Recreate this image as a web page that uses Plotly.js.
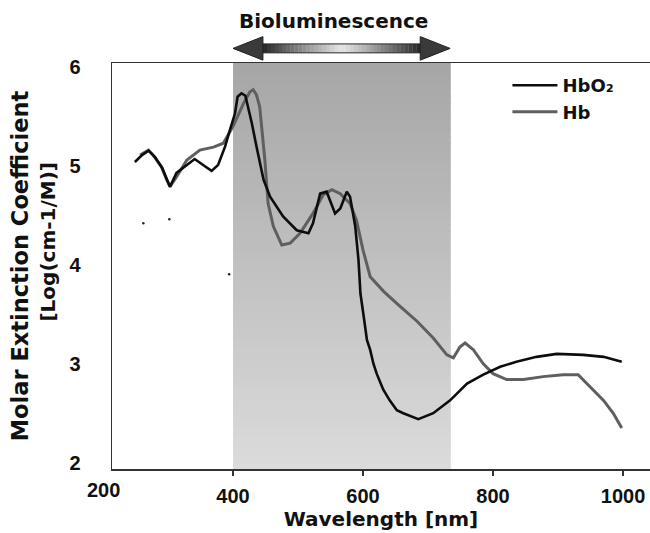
<!DOCTYPE html>
<html>
<head>
<meta charset="utf-8">
<script src="https://cdn.plot.ly/plotly-3.0.1.min.js"></script>
<style>
html,body{margin:0;padding:0;background:#ffffff;}
#chart{width:650px;height:533px;}
</style>
</head>
<body>
<div id="chart"></div>
<script>
// ---- data ----
const seriesNames = ['HbO₂', 'Hb'];

const hbo2Wavelength = [249,260,270,280,291,303,313,329,341,354,367,377,388,395,403,407,413,419,424,429,436,447,457,477,498,516,523,534,544,557,565,575,580,588,593,596,601,606,611,616,621,631,641,652,662,685,708,734,760,785,811,836,867,898,939,970,998];
const hbo2Log = [5.04,5.11,5.155,5.09,4.98,4.79,4.93,5.01,5.07,5.01,4.95,5.01,5.20,5.36,5.53,5.70,5.735,5.71,5.57,5.43,5.20,4.86,4.69,4.49,4.35,4.32,4.42,4.72,4.74,4.52,4.57,4.74,4.69,4.39,4.05,3.71,3.48,3.24,3.14,3.00,2.90,2.74,2.63,2.53,2.50,2.44,2.50,2.63,2.80,2.89,2.97,3.02,3.07,3.10,3.09,3.07,3.02];

const hbWavelength = [257,270,277,290,298,303,313,329,349,370,385,400,416,426,431,436,441,445,449,454,462,475,488,503,523,539,552,565,580,590,600,611,632,657,683,708,729,739,749,757,770,785,800,821,847,877,908,931,949,970,985,998];
const hbLog = [5.11,5.16,5.11,4.99,4.86,4.79,4.89,5.06,5.16,5.19,5.23,5.40,5.63,5.75,5.77,5.72,5.60,5.36,5.06,4.62,4.39,4.20,4.22,4.32,4.52,4.71,4.76,4.72,4.62,4.45,4.15,3.88,3.73,3.58,3.43,3.26,3.09,3.06,3.17,3.21,3.14,3.00,2.90,2.84,2.84,2.87,2.89,2.89,2.77,2.63,2.50,2.35];

// stray specks visible in the scanned figure
const strayWavelength = [262, 302, 394];
const strayLog = [4.42, 4.46, 3.905];

const xTickVals = [200, 400, 600, 800, 1000];
const xTickText = ['200', '400', '600', '800', '1000'];
const yTickVals = [2, 3, 4, 5, 6];
const yTickText = ['2', '3', '4', '5', '6'];

const bandRange = [400, 735];      // bioluminescence window (nm)
const bandLabel = 'Bioluminescence';
const xTitle = 'Wavelength [nm]';
const yTitleLine1 = 'Molar Extinction Coefficient';
const yTitleLine2 = '[Log(cm-1/M)]';

// ---- styling ----
const titleFont = {family: 'DejaVu Sans', weight: 'bold', color: '#111111'};
const tickFont = {family: 'Liberation Sans, Arial', size: 20, weight: 'bold', color: '#111111'};

const shapes = [];
// vertical gradient band (dark at top, light at bottom)
const N = 60;
for (let i = 0; i < N; i++) {
  const t0 = i / N, t1 = (i + 1) / N;
  const c = Math.round(219 - (219 - 166) * ((t0 + t1) / 2));
  shapes.push({type: 'rect', xref: 'x', yref: 'paper', x0: bandRange[0], x1: bandRange[1],
    y0: t0, y1: Math.min(1, t1 + 0.003), fillcolor: `rgb(${c},${c},${c})`, line: {width: 0}, layer: 'below'});
}

// double-headed arrow above the plot
const ay = 1.036, headH = 0.029, shaftH = 0.011;
const aL = bandRange[0], aR = 734, headLen = 46;
const sL = aL + headLen, sR = aR - headLen;
const M = 40;
for (let i = 0; i < M; i++) {
  const t = (i + 0.5) / M;
  const d = Math.abs(2 * t - 1);
  const g = Math.round(228 - 190 * Math.pow(d, 1.1));
  shapes.push({type: 'rect', xref: 'x', yref: 'paper',
    x0: sL + (sR - sL) * i / M, x1: sL + (sR - sL) * (i + 1) / M + 0.5,
    y0: ay - shaftH, y1: ay + shaftH, fillcolor: `rgb(${g},${g},${g})`, line: {width: 0}});
}
shapes.push({type: 'rect', xref: 'x', yref: 'paper', x0: sL, x1: sR, y0: ay - shaftH, y1: ay + shaftH,
  fillcolor: 'rgba(0,0,0,0)', line: {color: '#2a2a2a', width: 1}});
shapes.push({type: 'path', xref: 'x', yref: 'paper',
  path: `M ${sL},${ay + headH} L ${aL},${ay} L ${sL},${ay - headH} Z`,
  fillcolor: '#3a3a3a', line: {color: '#222222', width: 1}});
shapes.push({type: 'path', xref: 'x', yref: 'paper',
  path: `M ${sR},${ay + headH} L ${aR},${ay} L ${sR},${ay - headH} Z`,
  fillcolor: '#3a3a3a', line: {color: '#222222', width: 1}});

const traces = [
  {x: hbWavelength, y: hbLog, name: seriesNames[1], type: 'scatter', mode: 'lines',
   line: {color: '#5f5f5f', width: 3}, legendrank: 2},
  {x: hbo2Wavelength, y: hbo2Log, name: seriesNames[0], type: 'scatter', mode: 'lines',
   line: {color: '#0d0d0d', width: 2.6}, legendrank: 1},
  {x: strayWavelength, y: strayLog, type: 'scatter', mode: 'markers', showlegend: false,
   hoverinfo: 'skip', marker: {color: '#222222', size: 2.5}}
];

const layout = {
  width: 650, height: 533,
  margin: {l: 112, r: 0, t: 63, b: 64},
  paper_bgcolor: '#ffffff', plot_bgcolor: '#ffffff',
  showlegend: true,
  legend: {x: 0.735, y: 0.99, xanchor: 'left', yanchor: 'top', bgcolor: 'rgba(0,0,0,0)',
    font: Object.assign({size: 18}, titleFont), itemwidth: 45,
    traceorder: 'normal', tracegroupgap: 6},
  xaxis: {range: [213.8, 1041.5], tickvals: xTickVals, ticktext: xTickText,
    showgrid: false, zeroline: false, showline: true, linecolor: '#333333', linewidth: 1.5,
    mirror: true, ticks: 'outside', ticklen: 5, tickwidth: 1.5, tickcolor: '#333333',
    tickfont: tickFont, ticklabelstandoff: 3,
    title: {text: xTitle, font: Object.assign({size: 20}, titleFont), standoff: 4}},
  yaxis: {range: [1.936, 6.041], tickvals: yTickVals, ticktext: yTickText,
    showgrid: false, zeroline: false, showline: true, linecolor: '#333333', linewidth: 1.5,
    ticks: '', tickfont: tickFont, ticklabelstandoff: 26,
    title: {text: yTitleLine1, font: Object.assign({size: 22.5}, titleFont), standoff: 34}},
  shapes: shapes,
  annotations: [
    {text: bandLabel, xref: 'paper', yref: 'paper', x: 0.4108, y: 1.1034, xanchor: 'center', yanchor: 'middle',
     showarrow: false, font: Object.assign({size: 20}, titleFont)},
    {text: xTickText[0], xref: 'paper', yref: 'paper', x: -0.0167, y: -0.0517, xanchor: 'center', yanchor: 'middle',
     showarrow: false, font: tickFont},
    {text: yTitleLine2, xref: 'paper', yref: 'paper', x: -0.118, y: 0.559, xanchor: 'center', yanchor: 'middle',
     textangle: -90, showarrow: false, font: Object.assign({size: 20}, titleFont)}
  ]
};

Plotly.newPlot('chart', traces, layout, {displayModeBar: false, staticPlot: true});
</script>
</body>
</html>
